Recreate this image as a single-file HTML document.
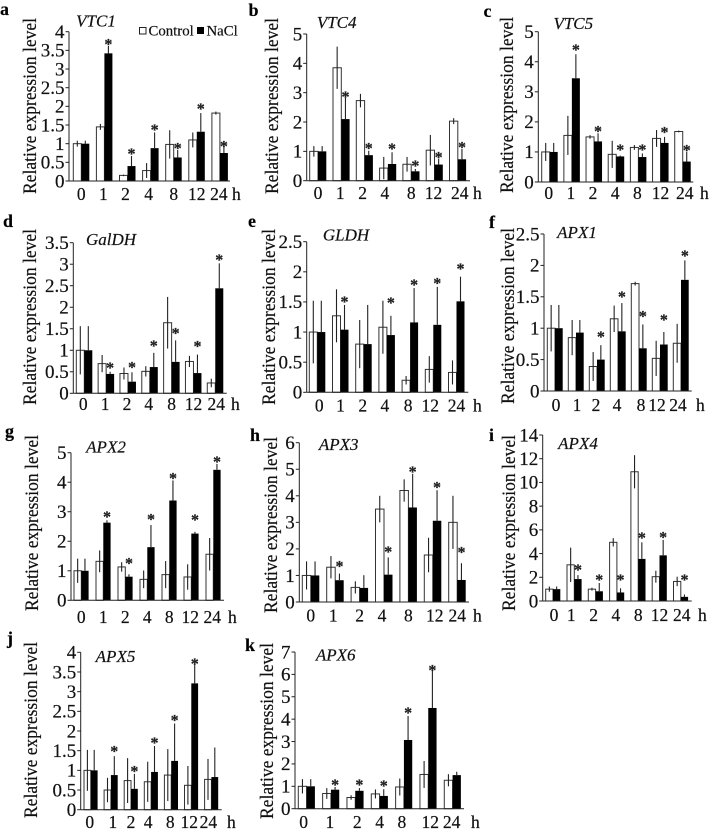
<!DOCTYPE html>
<html lang="en">
<head>
<meta charset="utf-8">
<title>Relative expression level of ascorbate genes under NaCl</title>
<style>
html,body{margin:0;padding:0;background:#fff;width:709px;height:838px;overflow:hidden}
svg{display:block;font-family:"Liberation Serif","DejaVu Serif",serif;fill:#111}
text{stroke:#111;stroke-width:0.2px}
</style>
</head>
<body>
<svg id="figure" xmlns="http://www.w3.org/2000/svg" width="709" height="838" viewBox="0 0 709 838">
  <g>
    <rect x="139.5" y="27.5" width="6.5" height="6.5" fill="#fff" stroke="#222" stroke-width="1"/>
    <text x="148.5" y="35.5" font-size="14.8">Control</text>
    <rect x="197" y="27" width="7" height="7" fill="#000"/>
    <text x="206.5" y="35.5" font-size="14.8">NaCl</text>
  </g>
</svg>
<script>
// Shared category labels
const hours = ['0', '1', '2', '4', '8', '12', '24'];

// Y-axis tick labels
const ticksA = ['0', '0.5', '1', '1.5', '2', '2.5', '3', '3.5', '4'];
const ticksB = ['0', '1', '2', '3', '4', '5'];
const ticksC = ['0', '1', '2', '3', '4', '5'];
const ticksD = ['0', '0.5', '1', '1.5', '2', '2.5', '3', '3.5'];
const ticksE = ['0', '0.5', '1', '1.5', '2', '2.5'];
const ticksF = ['0', '0.5', '1', '1.5', '2', '2.5'];
const ticksG = ['0', '1', '2', '3', '4', '5'];
const ticksH = ['0', '1', '2', '3', '4', '5', '6'];
const ticksI = ['0', '2', '4', '6', '8', '10', '12', '14'];
const ticksJ = ['0', '0.5', '1', '1.5', '2', '2.5', '3', '3.5', '4'];
const ticksK = ['0', '1', '2', '3', '4', '5', '6', '7'];

// VTC1
const controlA = [1, 1.45, 0.15, 0.28, 0.98, 1.1, 1.82];
const controlErrA = [0.08, 0.08, 0.02, 0.2, 0.38, 0.2, 0.04];
const naclA = [1, 3.42, 0.4, 0.88, 0.63, 1.32, 0.75];
const naclErrA = [0.08, 0.2, 0.27, 0.42, 0.2, 0.5, 0.28];
const starsA = [null, 3.73, 0.79, 1.44, 0.94, 2.0, 0.99];

// VTC4
const controlB = [1, 3.85, 2.73, 0.43, 0.56, 1.04, 2.03];
const controlErrB = [0.18, 0.72, 0.23, 0.38, 0.25, 0.52, 0.1];
const naclB = [1, 2.1, 0.87, 0.57, 0.32, 0.55, 0.73];
const naclErrB = [0.18, 0.73, 0.15, 0.4, 0.08, 0.2, 0.35];
const starsB = [null, 2.94, 1.19, 1.16, 0.59, 0.875, 1.22];

// VTC5
const controlC = [1, 1.55, 1.5, 0.92, 1.15, 1.45, 1.68];
const controlErrC = [0.3, 0.65, 0.06, 0.45, 0.08, 0.28, 0.03];
const naclC = [1, 3.45, 1.35, 0.85, 0.83, 1.3, 0.68];
const naclErrC = [0.3, 0.8, 0.27, 0.03, 0.12, 0.2, 0.33];
const starsC = [null, 4.47, 1.76, 1.14, 1.14, 1.73, 1.13];

// GalDH
const controlD = [1, 0.69, 0.46, 0.51, 1.64, 0.74, 0.24];
const controlErrD = [0.56, 0.2, 0.14, 0.12, 0.6, 0.13, 0.1];
const naclD = [1, 0.45, 0.27, 0.61, 0.73, 0.47, 2.44];
const naclErrD = [0.56, 0.05, 0.22, 0.33, 0.5, 0.43, 0.58];
const starsD = [null, 0.65, 0.66, 1.16, 1.45, 1.14, 3.16];

// GLDH
const controlE = [1, 1.27, 0.8, 1.08, 0.2, 0.38, 0.33];
const controlErrE = [0.52, 0.44, 0.4, 0.44, 0.07, 0.22, 0.2];
const naclE = [1, 1.04, 0.8, 0.95, 1.16, 1.12, 1.51];
const naclErrE = [0.52, 0.41, 0.65, 0.32, 0.57, 0.63, 0.41];
const starsE = [null, 1.54, null, 1.52, 1.82, 1.85, 2.09];

// APX1
const controlF = [1, 0.85, 0.39, 1.15, 1.71, 0.52, 0.76];
const controlErrF = [0.37, 0.28, 0.23, 0.21, 0.03, 0.28, 0.31];
const naclF = [1, 0.93, 0.5, 0.95, 0.68, 0.74, 1.77];
const naclErrF = [0.37, 0.2, 0.23, 0.45, 0.38, 0.2, 0.31];
const starsF = [null, null, 0.9, 1.54, 1.23, 1.17, 2.19];

// APX2
const controlG = [1, 1.32, 1.13, 0.71, 0.87, 0.79, 1.56];
const controlErrG = [0.41, 0.37, 0.16, 0.3, 0.46, 0.43, 0.55];
const naclG = [1, 2.63, 0.8, 1.8, 3.38, 2.26, 4.42];
const naclErrG = [0.41, 0.08, 0.08, 0.75, 0.68, 0.06, 0.2];
const starsG = [null, 2.91, 1.33, 2.82, 4.21, 2.8, 4.77];

// APX3
const controlH = [1, 1.31, 0.55, 3.5, 4.2, 1.77, 3];
const controlErrH = [0.53, 0.42, 0.23, 0.5, 0.42, 0.65, 1];
const naclH = [1, 0.82, 0.53, 1.03, 3.56, 3.06, 0.83];
const naclErrH = [0.53, 0.25, 0.48, 0.65, 1.27, 1.15, 0.63];
const starsH = [null, 1.43, null, 1.98, 5.0, 4.4, 1.96];

// APX4
const controlI = [1, 3.05, 1, 4.95, 10.9, 2.05, 1.65];
const controlErrI = [0.22, 1.45, 0.12, 0.35, 1.4, 0.5, 0.4];
const naclI = [1, 1.85, 0.82, 0.72, 3.55, 3.85, 0.35];
const naclErrI = [0.22, 0.33, 0.7, 0.35, 1.4, 1.3, 0.2];
const starsI = [null, 2.84, 1.97, 1.99, 5.53, 5.56, 1.99];

// APX5
const controlJ = [1, 0.5, 0.74, 0.71, 0.88, 0.62, 0.77];
const controlErrJ = [0.52, 0.31, 0.57, 0.51, 0.66, 0.49, 0.52];
const naclJ = [1, 0.88, 0.53, 0.96, 1.24, 3.21, 0.83];
const naclErrJ = [0.52, 0.48, 0.38, 0.66, 0.95, 0.48, 0.75];
const starsJ = [null, 1.54, 1.04, 1.76, 2.33, 3.77, null];

// APX6
const controlK = [1, 0.68, 0.5, 0.66, 0.97, 1.53, 1.27];
const controlErrK = [0.32, 0.24, 0.1, 0.2, 0.38, 0.6, 0.27];
const naclK = [1, 0.85, 0.8, 0.57, 3.07, 4.5, 1.5];
const naclErrK = [0.32, 0.12, 0.12, 0.3, 1.07, 1.65, 0.15];
const starsK = [null, 1.18, 1.16, 1.12, 4.38, 6.29, null];

const panelSeries = {
  a: {gene: 'VTC1', ticks: ticksA, control: controlA, controlErr: controlErrA, nacl: naclA, naclErr: naclErrA, stars: starsA},
  b: {gene: 'VTC4', ticks: ticksB, control: controlB, controlErr: controlErrB, nacl: naclB, naclErr: naclErrB, stars: starsB},
  c: {gene: 'VTC5', ticks: ticksC, control: controlC, controlErr: controlErrC, nacl: naclC, naclErr: naclErrC, stars: starsC},
  d: {gene: 'GalDH', ticks: ticksD, control: controlD, controlErr: controlErrD, nacl: naclD, naclErr: naclErrD, stars: starsD},
  e: {gene: 'GLDH', ticks: ticksE, control: controlE, controlErr: controlErrE, nacl: naclE, naclErr: naclErrE, stars: starsE},
  f: {gene: 'APX1', ticks: ticksF, control: controlF, controlErr: controlErrF, nacl: naclF, naclErr: naclErrF, stars: starsF},
  g: {gene: 'APX2', ticks: ticksG, control: controlG, controlErr: controlErrG, nacl: naclG, naclErr: naclErrG, stars: starsG},
  h: {gene: 'APX3', ticks: ticksH, control: controlH, controlErr: controlErrH, nacl: naclH, naclErr: naclErrH, stars: starsH},
  i: {gene: 'APX4', ticks: ticksI, control: controlI, controlErr: controlErrI, nacl: naclI, naclErr: naclErrI, stars: starsI},
  j: {gene: 'APX5', ticks: ticksJ, control: controlJ, controlErr: controlErrJ, nacl: naclJ, naclErr: naclErrJ, stars: starsJ},
  k: {gene: 'APX6', ticks: ticksK, control: controlK, controlErr: controlErrK, nacl: naclK, naclErr: naclErrK, stars: starsK}
};

// Layout only: plot frames and label placement, no data values.
const layouts = {
  a: {axisX: 69, axisEnd: 230, y0: 181, yTop: 31.7, x0: 73.3, step: 23.1, w: 8, letterX: 0, letterY: 15, labelX: 36, labelY: 106, titleX: 96, titleY: 26.7, xBase: 200, hX: 232, dx: [0, -1, -2, -2, 0, 0, -1]},
  b: {axisX: 306.7, axisEnd: 470, y0: 180.7, yTop: 34, x0: 309.7, step: 23.3, w: 8.3, letterX: 248.5, letterY: 16, labelX: 278, labelY: 106, titleX: 336.7, titleY: 28, xBase: 199, hX: 473, dx: [0, -1, -2, -3, 0, -1, 2]},
  c: {axisX: 538.3, axisEnd: 693.3, y0: 182, yTop: 31.7, x0: 541.7, step: 22.17, w: 8, letterX: 483.5, letterY: 17, labelX: 513, labelY: 105, titleX: 573.3, titleY: 29, xBase: 199, hX: 700, dx: [-1, -1, -1, -1, -1, 0, 2]},
  d: {axisX: 73.3, axisEnd: 226.7, y0: 393.3, yTop: 242.7, x0: 76.3, step: 21.83, w: 8, letterX: 3, letterY: 227, labelX: 36, labelY: 317, titleX: 111, titleY: 245, xBase: 410, hX: 231, dx: [-1, -1, -1, -1, 0, 0, 1]},
  e: {axisX: 306.7, axisEnd: 468.3, y0: 392.3, yTop: 241.7, x0: 309.3, step: 23.2, w: 8, letterX: 248, letterY: 227, labelX: 275, labelY: 317, titleX: 346, titleY: 240.7, xBase: 411.7, hX: 473, dx: [2, 0, -1, -2, -2, -3, 0]},
  f: {axisX: 544, axisEnd: 691.7, y0: 391, yTop: 234, x0: 547.3, step: 21, w: 7.7, letterX: 489, letterY: 228, labelX: 514, labelY: 316, titleX: 577, titleY: 238, xBase: 411, hX: 696, dx: [1, 1, -1, -1, 2, -3, -3]},
  g: {axisX: 71, axisEnd: 224, y0: 600.3, yTop: 452.7, x0: 74, step: 22, w: 7.3, letterX: 5, letterY: 437, labelX: 38, labelY: 523, titleX: 106, titleY: 452.7, xBase: 623, hX: 228, dx: [0, 0, 0, 0, 0, -1, -1]},
  h: {axisX: 299.3, axisEnd: 469, y0: 602, yTop: 442.7, x0: 302.3, step: 24.4, w: 8.5, letterX: 250, letterY: 441, labelX: 277, labelY: 525, titleX: 338.7, titleY: 450, xBase: 621.7, hX: 473, dx: [0, -2, 0, -2, 0, 2, 0]},
  i: {axisX: 542.7, axisEnd: 691.7, y0: 601, yTop: 435, x0: 545.7, step: 21.3, w: 7.3, letterX: 489, letterY: 441, labelX: 515, labelY: 523, titleX: 578, titleY: 449, xBase: 621, hX: 698, dx: [1, -3, -2, -1, 0, 0, 1]},
  j: {axisX: 80.7, axisEnd: 221.7, y0: 809.7, yTop: 652.3, x0: 84, step: 20.1, w: 6.8, letterX: 7, letterY: 644, labelX: 37, labelY: 730, titleX: 115.5, titleY: 662, xBase: 828, hX: 227, dx: [-1, 2, 0, -3, -1, -2, -3]},
  k: {axisX: 295, axisEnd: 464, y0: 808.7, yTop: 652, x0: 298.3, step: 24.33, w: 8.3, letterX: 245, letterY: 651, labelX: 273, labelY: 731, titleX: 335.7, titleY: 660.7, xBase: 828, hX: 471, dx: [-3, -1, 2, 0, -2, 2, -1]}
};

const SVG_NS = 'http://www.w3.org/2000/svg';
const figure = document.getElementById('figure');

function make(parent, tag, attrs, text) {
  const el = document.createElementNS(SVG_NS, tag);
  for (const key in attrs) el.setAttribute(key, attrs[key]);
  if (text !== undefined) el.textContent = text;
  parent.appendChild(el);
  return el;
}

function yScale(frame, ticks, value) {
  const maxValue = parseFloat(ticks[ticks.length - 1]);
  return frame.y0 - value * (frame.y0 - frame.yTop) / maxValue;
}

function xControl(frame, index) {
  return frame.x0 + index * frame.step;
}

function xNacl(frame, index) {
  return frame.x0 + index * frame.step + frame.w;
}

function drawPanel(letter) {
  const s = panelSeries[letter];
  const f = layouts[letter];
  const y = function (v) { return yScale(f, s.ticks, v); };
  let el;

  const group = make(figure, 'g', {});
  
  

  el = make(group, 'text', {x: f.letterX, y: f.letterY, 'font-size': 18, 'font-weight': 'bold', fill: '#000'}, letter);
  
  

  el = make(group, 'text', {x: f.titleX, y: f.titleY, 'font-size': 17, 'font-style': 'italic', 'text-anchor': 'middle'}, s.gene);
  
  

  el = make(group, 'text', {
    x: 0, y: 0, 'font-size': 18.5, 'text-anchor': 'middle',
    textLength: 176, lengthAdjust: 'spacingAndGlyphs',
    transform: 'translate(' + f.labelX + ' ' + f.labelY + ') rotate(-90)'
  }, 'Relative expression level');
  
  

  hours.forEach(function (hour, i) {
    const white = Math.min(y(s.control[i]), f.y0);
    const black = Math.min(y(s.nacl[i]), f.y0);

    el = make(group, 'rect', {x: xControl(f, i), y: white, width: f.w, height: f.y0 - white, fill: '#fff', stroke: '#333', 'stroke-width': 1});
    
    

    el = make(group, 'rect', {x: xNacl(f, i), y: black, width: f.w, height: f.y0 - black, fill: '#000'});
    
    

    const cx = xControl(f, i) + f.w / 2;
    el = make(group, 'line', {x1: cx, x2: cx, y1: y(s.control[i] + s.controlErr[i]), y2: y(Math.max(0, s.control[i] - s.controlErr[i])), stroke: '#222', 'stroke-width': 1.1});
    
    

    const nx = xNacl(f, i) + f.w / 2;
    el = make(group, 'line', {x1: nx, x2: nx, y1: y(s.nacl[i] + s.naclErr[i]), y2: black, stroke: '#222', 'stroke-width': 1.1});
    
    

    if (s.stars[i] !== null) {
      el = make(group, 'text', {x: nx, y: y(s.stars[i]) + 7.5, 'font-size': 16, 'font-weight': 'bold', 'text-anchor': 'middle', fill: '#222'}, '*');
      
      
    }

    el = make(group, 'text', {x: xNacl(f, i) + f.dx[i], y: f.xBase, 'font-size': 17.5, 'text-anchor': 'middle'}, hour);
    
    
  });

  el = make(group, 'text', {x: f.hX, y: f.xBase, 'font-size': 17.5}, 'h');
  
  

  el = make(group, 'line', {x1: f.axisX, x2: f.axisX, y1: f.yTop, y2: f.y0, stroke: '#222', 'stroke-width': 1});
  
  

  el = make(group, 'line', {x1: f.axisX, x2: f.axisEnd, y1: f.y0, y2: f.y0, stroke: '#222', 'stroke-width': 1});
  
  

  s.ticks.forEach(function (label) {
    const ty = y(parseFloat(label));

    el = make(group, 'line', {x1: f.axisX - 3.5, x2: f.axisX, y1: ty, y2: ty, stroke: '#222', 'stroke-width': 1});
    
    

    el = make(group, 'text', {x: f.axisX - 4.5, y: ty + 6.3, 'font-size': 19, 'text-anchor': 'end'}, label);
    
    
  });
}

Object.keys(panelSeries).forEach(drawPanel);
</script>
</body>
</html>
